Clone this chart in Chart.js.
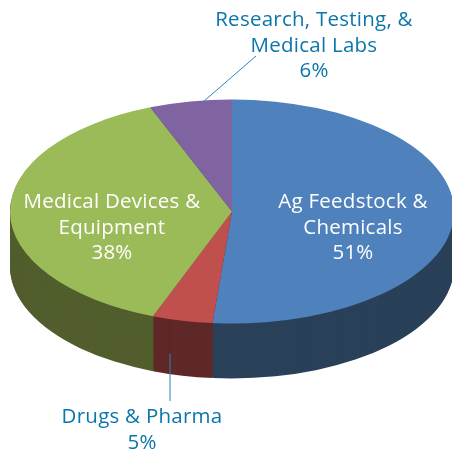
<!DOCTYPE html>
<html>
<head>
<meta charset="utf-8">
<script src="https://cdn.jsdelivr.net/npm/chart.js@4"></script>
<style>
  html, body { margin: 0; background: #ffffff; }
  canvas { display: block; }
</style>
</head>
<body>
<canvas id="chart" width="452" height="452"></canvas>
<script>
const categories = ["Ag Feedstock & Chemicals", "Drugs & Pharma", "Medical Devices & Equipment", "Research, Testing, & Medical Labs"];
// the printed labels are rounded
const shares = [51.4, 4.4, 38.2, 6];
const topColors = ["#4f81bd", "#c0504d", "#9bbb59", "#8064a2"];
const sideColors = ["#2a4159", "#602828", "#525e2d", "#40325a"];
const labelLines = [
    ["Ag Feedstock &", "Chemicals", "51%"],
    ["Drugs & Pharma", "5%"],
    ["Medical Devices &", "Equipment", "38%"],
    ["Research, Testing, &", "Medical Labs", "6%"]
];

const squash = 0.5045;
const depth = 55;
const labelFont = '20.5px "Open Sans"';
const inkBlue = "#0b76ab";

// centre x, first baseline and colour of each label block
const labelSpots = [
    { x: 353, y: 208, color: "#ffffff" },
    { x: 142, y: 423, color: inkBlue, step: 26 },
    { x: 112, y: 208, color: "#ffffff" },
    { x: 314, y: 26, color: inkBlue }
];

const leaders = [
    [256, 56, 203, 102],
    [170, 354, 170, 401]
];

const pie3d = {
    id: "pie3d",
    beforeDatasetDraw(chart) {
        const ctx = chart.ctx;
        const arcs = chart.getDatasetMeta(0).data;
        const cy = arcs[0].y;
        ctx.save();
        ctx.translate(0, cy);
        ctx.scale(1, squash);
        ctx.translate(0, -cy);
        // stack the rim under the top face, bottom layer first
        for (let d = depth; d > 0; d--) {
            arcs.forEach((arc, i) => {
                const off = d / squash;
                ctx.beginPath();
                ctx.moveTo(arc.x, arc.y + off);
                ctx.arc(arc.x, arc.y + off, arc.outerRadius, arc.startAngle, arc.endAngle);
                ctx.closePath();
                ctx.fillStyle = sideColors[i];
                ctx.fill();
            });
        }
    },
    afterDatasetDraw(chart) {
        chart.ctx.restore();
    },
    afterDraw(chart) {
        const ctx = chart.ctx;
        ctx.save();
        ctx.strokeStyle = "#2a86b3";
        ctx.lineWidth = 1;
        leaders.forEach(l => {
            ctx.beginPath();
            ctx.moveTo(l[0], l[1]);
            ctx.lineTo(l[2], l[3]);
            ctx.stroke();
        });
        ctx.font = labelFont;
        ctx.letterSpacing = "0.25px";
        ctx.textAlign = "center";
        ctx.textBaseline = "alphabetic";
        labelLines.forEach((lines, i) => {
            const spot = labelSpots[i];
            ctx.fillStyle = spot.color;
            lines.forEach((line, n) => {
                ctx.fillText(line, spot.x, spot.y + n * (spot.step || 25.5));
            });
        });
        ctx.restore();
    }
};

new Chart(document.getElementById("chart"), {
    type: "pie",
    data: {
        labels: categories,
        datasets: [{
            data: shares,
            backgroundColor: topColors,
            borderWidth: 0,
            radius: 222,
            clip: false
        }]
    },
    options: {
        responsive: false,
        animation: false,
        layout: { padding: { left: 12, right: 0, top: 0, bottom: 29 } },
        plugins: {
            legend: { display: false },
            tooltip: { enabled: false }
        }
    },
    plugins: [pie3d]
});
</script>
</body>
</html>
